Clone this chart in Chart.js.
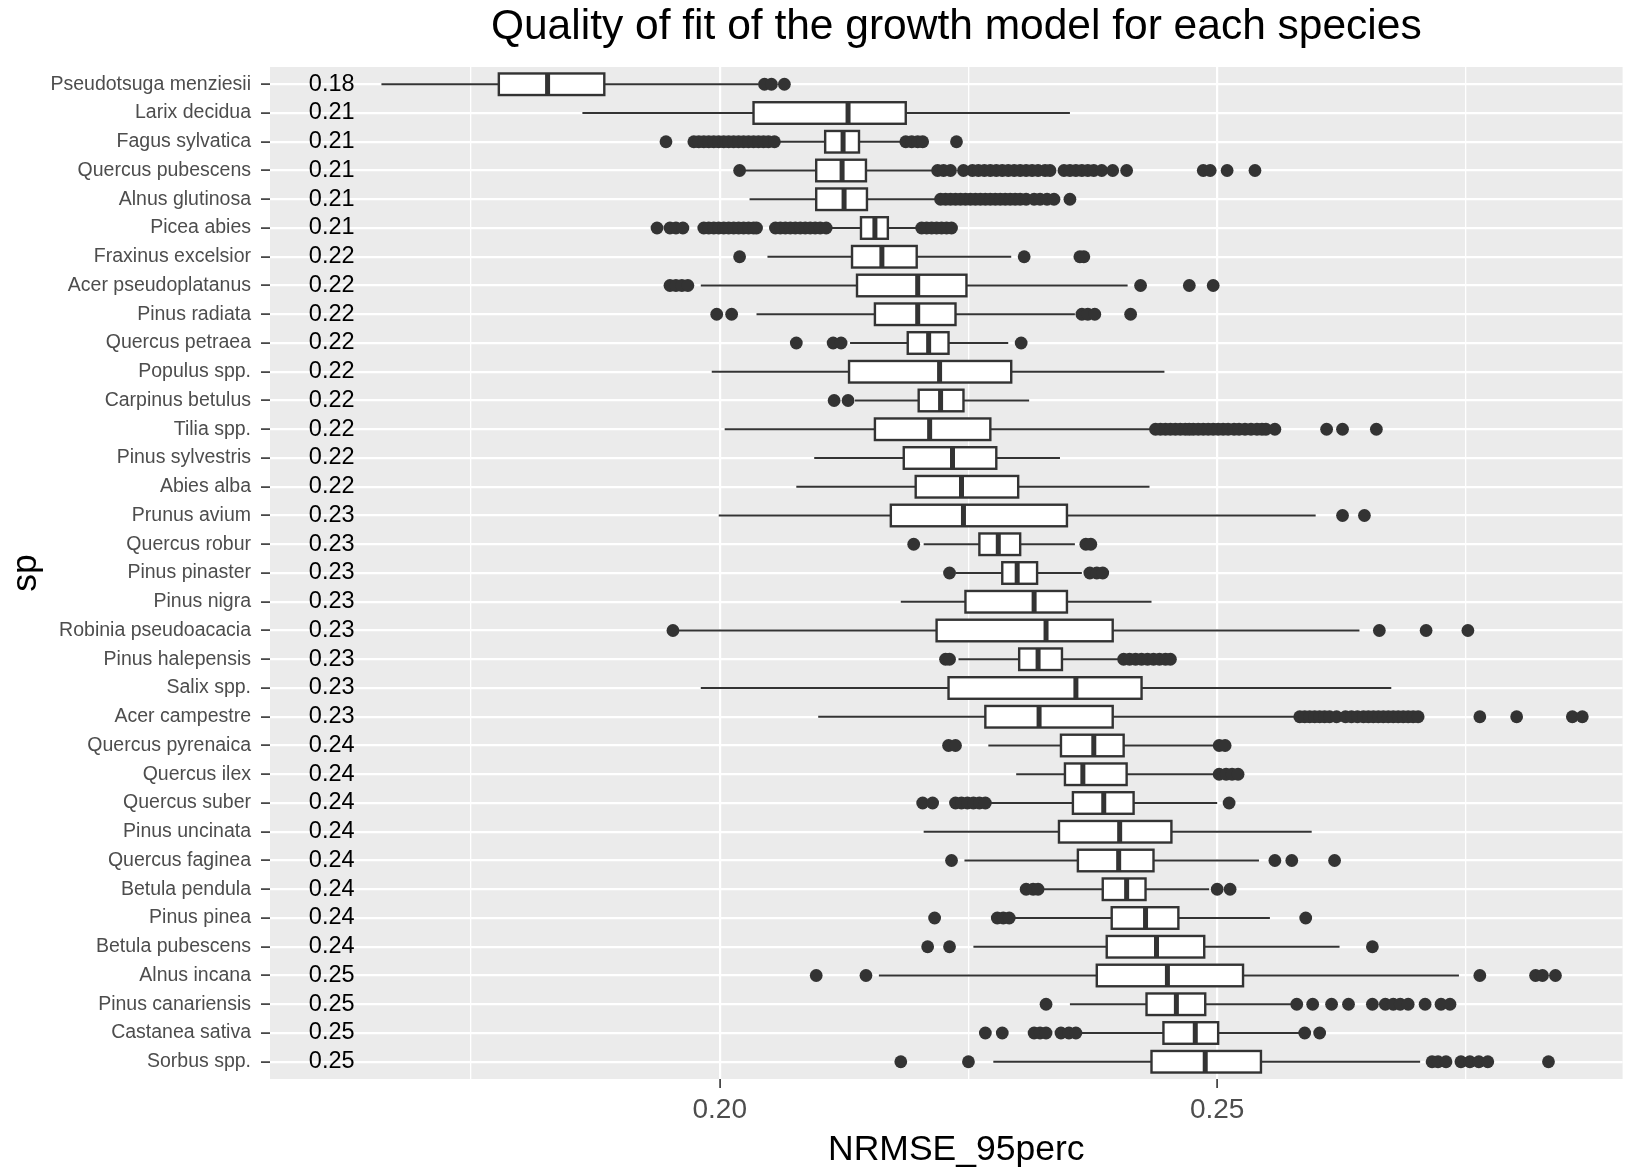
<!DOCTYPE html>
<html>
<head>
<meta charset="utf-8">
<title>Quality of fit of the growth model for each species</title>
<script src="https://cdn.jsdelivr.net/npm/chart.js@4.4.1/dist/chart.umd.min.js"></script>
<style>
  body { margin: 0; background: #ffffff; }
  canvas { display: block; }
</style>
</head>
<body>
<canvas id="fitChart" width="1629" height="1172"></canvas>
<script>
const titleText = "Quality of fit of the growth model for each species";
const xTitleText = "NRMSE_95perc";

const species = [
  "Pseudotsuga menziesii", "Larix decidua", "Fagus sylvatica", "Quercus pubescens",
  "Alnus glutinosa", "Picea abies", "Fraxinus excelsior", "Acer pseudoplatanus",
  "Pinus radiata", "Quercus petraea", "Populus spp.", "Carpinus betulus",
  "Tilia spp.", "Pinus sylvestris", "Abies alba", "Prunus avium",
  "Quercus robur", "Pinus pinaster", "Pinus nigra", "Robinia pseudoacacia",
  "Pinus halepensis", "Salix spp.", "Acer campestre", "Quercus pyrenaica",
  "Quercus ilex", "Quercus suber", "Pinus uncinata", "Quercus faginea",
  "Betula pendula", "Pinus pinea", "Betula pubescens", "Alnus incana",
  "Pinus canariensis", "Castanea sativa", "Sorbus spp."
];

// printed value next to each species
const speciesLabels = [
  "0.18", "0.21", "0.21", "0.21", "0.21", "0.21", "0.22", "0.22", "0.22", "0.22",
  "0.22", "0.22", "0.22", "0.22", "0.22", "0.23", "0.23", "0.23", "0.23", "0.23",
  "0.23", "0.23", "0.23", "0.24", "0.24", "0.24", "0.24", "0.24", "0.24", "0.24",
  "0.24", "0.25", "0.25", "0.25", "0.25"
];

const whiskerLow = [
  0.1660, 0.1862, 0.2058, 0.2024, 0.2030, 0.2110, 0.2048, 0.1981, 0.2037, 0.2131,
  0.1992, 0.2136, 0.2005, 0.2095, 0.2077, 0.1999, 0.2205, 0.2237, 0.2182, 0.1958,
  0.2240, 0.1981, 0.2099, 0.2270, 0.2298, 0.2271, 0.2205, 0.2246, 0.2324, 0.2295,
  0.2255, 0.2160, 0.2352, 0.2364, 0.2275
];
const q1 = [
  0.1778, 0.2034, 0.2106, 0.2097, 0.2097, 0.2142, 0.2133, 0.2138, 0.2156, 0.2189,
  0.2130, 0.2200, 0.2156, 0.2185, 0.2197, 0.2172, 0.2261, 0.2284, 0.2247, 0.2218,
  0.2301, 0.2230, 0.2267, 0.2343, 0.2347, 0.2355, 0.2341, 0.2360, 0.2385, 0.2394,
  0.2389, 0.2379, 0.2429, 0.2446, 0.2434
];
const median = [
  0.1827, 0.2129, 0.2124, 0.2123, 0.2125, 0.2156, 0.2163, 0.2199, 0.2199, 0.2210,
  0.2221, 0.2222, 0.2211, 0.2234, 0.2243, 0.2245, 0.2280, 0.2299, 0.2316, 0.2328,
  0.2320, 0.2358, 0.2321, 0.2376, 0.2365, 0.2386, 0.2402, 0.2401, 0.2409, 0.2428,
  0.2439, 0.2450, 0.2459, 0.2478, 0.2488
];
const q3 = [
  0.1884, 0.2187, 0.2140, 0.2147, 0.2148, 0.2169, 0.2198, 0.2248, 0.2237, 0.2230,
  0.2293, 0.2245, 0.2272, 0.2278, 0.2300, 0.2349, 0.2302, 0.2319, 0.2349, 0.2395,
  0.2344, 0.2424, 0.2395, 0.2406, 0.2409, 0.2416, 0.2454, 0.2436, 0.2428, 0.2461,
  0.2487, 0.2526, 0.2488, 0.2501, 0.2544
];
const whiskerHigh = [
  0.2039, 0.2352, 0.2184, 0.2217, 0.2221, 0.2202, 0.2293, 0.2410, 0.2357, 0.2290,
  0.2447, 0.2311, 0.2437, 0.2342, 0.2432, 0.2599, 0.2357, 0.2364, 0.2434, 0.2643,
  0.2405, 0.2675, 0.2583, 0.2500, 0.2498, 0.2500, 0.2595, 0.2542, 0.2492, 0.2553,
  0.2623, 0.2743, 0.2578, 0.2585, 0.2704
];

const outliers = [
  [0.2045, 0.2052, 0.2065],
  [],
  [0.1946, 0.1974, 0.1979, 0.1984, 0.1989, 0.1994, 0.1999, 0.2004, 0.2009, 0.2014, 0.2019,
   0.2024, 0.2029, 0.2034, 0.2039, 0.2044, 0.2049, 0.2055, 0.2187, 0.2193, 0.2199, 0.2204, 0.2238],
  [0.2020, 0.2219, 0.2225, 0.2232, 0.2245, 0.2254, 0.2260, 0.2266, 0.2272, 0.2278, 0.2284,
   0.2290, 0.2296, 0.2302, 0.2308, 0.2314, 0.2320, 0.2327, 0.2332, 0.2346, 0.2352, 0.2358,
   0.2364, 0.2370, 0.2376, 0.2384, 0.2395, 0.2409, 0.2486, 0.2493, 0.2510, 0.2538],
  [0.2222, 0.2227, 0.2232, 0.2237, 0.2242, 0.2247, 0.2252, 0.2257, 0.2262, 0.2267, 0.2272,
   0.2277, 0.2282, 0.2287, 0.2292, 0.2297, 0.2302, 0.2308, 0.2316, 0.2322, 0.2329, 0.2336, 0.2352],
  [0.1937, 0.1950, 0.1956, 0.1963, 0.1984, 0.1989, 0.1994, 0.1999, 0.2004, 0.2009, 0.2014,
   0.2019, 0.2024, 0.2029, 0.2034, 0.2037, 0.2056, 0.2061, 0.2066, 0.2071, 0.2076, 0.2081,
   0.2086, 0.2091, 0.2096, 0.2101, 0.2107, 0.2203, 0.2208, 0.2213, 0.2218, 0.2223, 0.2228, 0.2233],
  [0.2020, 0.2306, 0.2362, 0.2366],
  [0.1950, 0.1956, 0.1962, 0.1968, 0.2423, 0.2472, 0.2496],
  [0.1997, 0.2012, 0.2364, 0.2370, 0.2377, 0.2413],
  [0.2077, 0.2114, 0.2122, 0.2303],
  [],
  [0.2115, 0.2129],
  [0.2438, 0.2443, 0.2448, 0.2453, 0.2458, 0.2463, 0.2468, 0.2472, 0.2476, 0.2481, 0.2486,
   0.2491, 0.2496, 0.2501, 0.2506, 0.2511, 0.2517, 0.2522, 0.2528, 0.2534, 0.2540, 0.2545,
   0.2549, 0.2558, 0.2610, 0.2626, 0.2660],
  [],
  [],
  [0.2626, 0.2648],
  [0.2195, 0.2368, 0.2373],
  [0.2231, 0.2372, 0.2379, 0.2385],
  [],
  [0.1953, 0.2663, 0.2710, 0.2752],
  [0.2227, 0.2231, 0.2406, 0.2412, 0.2418, 0.2424, 0.2430, 0.2436, 0.2442, 0.2448, 0.2453],
  [],
  [0.2583, 0.2588, 0.2593, 0.2598, 0.2603, 0.2608, 0.2613, 0.2620, 0.2629, 0.2635, 0.2641,
   0.2647, 0.2652, 0.2657, 0.2662, 0.2667, 0.2672, 0.2677, 0.2682, 0.2687, 0.2692, 0.2697,
   0.2702, 0.2764, 0.2801, 0.2857, 0.2867],
  [0.2230, 0.2237, 0.2502, 0.2508],
  [0.2502, 0.2509, 0.2515, 0.2521],
  [0.2204, 0.2214, 0.2237, 0.2243, 0.2249, 0.2255, 0.2261, 0.2267, 0.2512],
  [],
  [0.2233, 0.2558, 0.2575, 0.2618],
  [0.2308, 0.2315, 0.2320, 0.2500, 0.2513],
  [0.2216, 0.2279, 0.2285, 0.2291, 0.2589],
  [0.2209, 0.2231, 0.2656],
  [0.2097, 0.2147, 0.2764, 0.2820, 0.2827, 0.2840],
  [0.2328, 0.2580, 0.2596, 0.2615, 0.2632, 0.2656, 0.2669, 0.2677, 0.2684, 0.2692, 0.2709, 0.2725, 0.2734],
  [0.2267, 0.2284, 0.2316, 0.2322, 0.2328, 0.2343, 0.2351, 0.2358, 0.2588, 0.2603],
  [0.2182, 0.2250, 0.2716, 0.2722, 0.2730, 0.2745, 0.2754, 0.2763, 0.2772, 0.2833]
];

const xTicks = [0.175, 0.2, 0.225, 0.25, 0.275];
const xTickLabels = ["", "0.20", "", "0.25", ""];
const xTickMajor = [false, true, false, true, false];
const xMin = 0.1548;
const xMax = 0.29075;
const labelX = 0.161;     // where the printed values sit on the x axis

const fontFamily = '"Liberation Sans", Arial, sans-serif';
const darkGrey = "#333333";
const boxHalf = 0.375;

// outlier points, one per value, placed on the species row
const outlierPoints = [];
outliers.forEach((vals, i) => {
  vals.forEach(v => outlierPoints.push({ x: v, y: i }));
});

const panelPlugin = {
  id: "panel",
  beforeDraw(chart) {
    const { ctx, chartArea: a } = chart;
    // the source panel runs past the right edge, so titles sit a bit right of centre
    const cx = (a.left + a.right) / 2 + 10;
    ctx.save();
    ctx.fillStyle = "#ffffff";
    ctx.fillRect(0, 0, chart.width, chart.height);
    ctx.fillStyle = "#EBEBEB";
    ctx.fillRect(a.left, a.top, a.right - a.left, a.bottom - a.top);

    ctx.fillStyle = "#000000";
    ctx.textAlign = "center";
    ctx.textBaseline = "alphabetic";
    ctx.font = "42.5px " + fontFamily;
    ctx.fillText(titleText, cx, 39);

    ctx.textBaseline = "middle";
    ctx.font = "35.5px " + fontFamily;
    ctx.fillText(xTitleText, cx, chart.height - 22);
    ctx.restore();
  },
  beforeDatasetsDraw(chart) {
    const { ctx, scales: { x, y } } = chart;
    ctx.save();
    ctx.strokeStyle = darkGrey;

    species.forEach((name, i) => {
      const yc = y.getPixelForValue(i);
      const yA = y.getPixelForValue(i - boxHalf);
      const yB = y.getPixelForValue(i + boxHalf);
      const top = Math.min(yA, yB);
      const h = Math.abs(yB - yA);
      const xl = x.getPixelForValue(q1[i]);
      const xr = x.getPixelForValue(q3[i]);
      const xm = x.getPixelForValue(median[i]);

      // whiskers
      ctx.lineWidth = 2.2;
      ctx.beginPath();
      ctx.moveTo(x.getPixelForValue(whiskerLow[i]), yc);
      ctx.lineTo(xl, yc);
      ctx.moveTo(xr, yc);
      ctx.lineTo(x.getPixelForValue(whiskerHigh[i]), yc);
      ctx.stroke();

      // box
      ctx.lineWidth = 2.4;
      ctx.fillStyle = "#ffffff";
      ctx.fillRect(xl, top, xr - xl, h);
      ctx.strokeRect(xl, top, xr - xl, h);

      // median
      ctx.lineWidth = 5;
      ctx.beginPath();
      ctx.moveTo(xm, top);
      ctx.lineTo(xm, top + h);
      ctx.stroke();

      // printed value
      ctx.fillStyle = "#000000";
      ctx.font = "23.5px " + fontFamily;
      ctx.textAlign = "center";
      ctx.textBaseline = "middle";
      ctx.fillText(speciesLabels[i], x.getPixelForValue(labelX), yc);
    });
    ctx.restore();
  }
};

const ctx = document.getElementById("fitChart").getContext("2d");

const chart = new Chart(ctx, {
  type: "scatter",
  data: {
    datasets: [{
      label: "outliers",
      data: outlierPoints,
      backgroundColor: darkGrey,
      borderWidth: 0,
      pointRadius: 6.4,
      pointHoverRadius: 6.4
    }]
  },
  options: {
    responsive: false,
    animation: false,
    events: [],
    layout: { padding: { top: 67, left: 0, right: 0, bottom: 0 } },
    plugins: {
      legend: { display: false },
      tooltip: { enabled: false },
      title: { display: false }
    },
    scales: {
      x: {
        type: "linear",
        position: "bottom",
        min: xMin,
        max: xMax,
        afterBuildTicks: axis => {
          axis.ticks = xTicks.map(v => ({ value: v }));
        },
        afterFit: axis => { axis.height = 93; },
        border: { display: false },
        grid: {
          color: "#ffffff",
          lineWidth: c => (xTickMajor[c.index] ? 2.2 : 1.3),
          tickLength: 9,
          tickWidth: 1.6,
          tickColor: c => (xTickMajor[c.index] ? darkGrey : "rgba(0,0,0,0)")
        },
        ticks: {
          autoSkip: false,
          maxRotation: 0,
          padding: 5,
          color: "#4D4D4D",
          font: { size: 28, family: fontFamily },
          callback: (value, index) => xTickLabels[index]
        },
        title: { display: false }
      },
      y: {
        type: "linear",
        position: "left",
        reverse: true,
        min: -0.6,
        max: species.length - 0.4,
        afterBuildTicks: axis => {
          axis.ticks = species.map((s, i) => ({ value: i }));
        },
        afterFit: axis => { axis.width = 270; },
        border: { display: false },
        grid: {
          color: "#ffffff",
          lineWidth: 2.2,
          tickLength: 9,
          tickWidth: 1.6,
          tickColor: darkGrey
        },
        ticks: {
          autoSkip: false,
          padding: 10,
          color: "#4D4D4D",
          font: { size: 19.5, family: fontFamily },
          callback: value => species[value]
        },
        title: {
          display: true,
          text: "sp",
          color: "#000000",
          font: { size: 35.5, family: fontFamily },
          padding: { top: 5, bottom: 0 }
        }
      }
    }
  },
  plugins: [panelPlugin]
});
</script>
</body>
</html>
